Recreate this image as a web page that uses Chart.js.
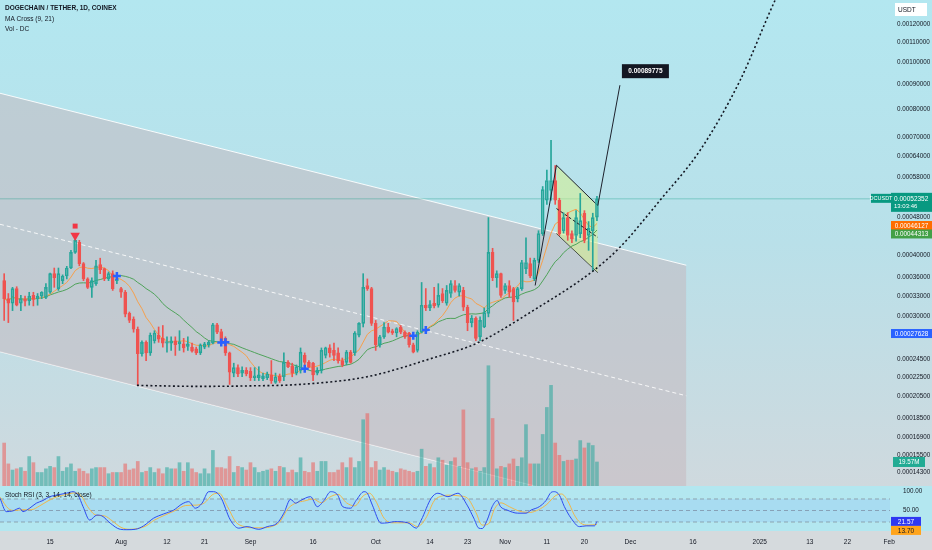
<!DOCTYPE html>
<html>
<head>
<meta charset="utf-8">
<script src="https://cdn.jsdelivr.net/npm/chart.js@4.4.1/dist/chart.umd.min.js"></script>
<style>
html, body { margin: 0; padding: 0; background: #d5dadd; }
#wrap { position: relative; width: 932px; height: 550px; overflow: hidden; }
#main { position: absolute; left: 0; top: 0; }
#osc { position: absolute; left: 0; top: 486px; }
</style>
</head>
<body>
<div id="wrap">
  <canvas id="main" width="932" height="486"></canvas>
  <canvas id="osc" width="932" height="64"></canvas>
</div>
<script>
// days are counted from 1 Aug 2024, prices are in units of 0.0001 USDT
const FIRST_DAY = -28;
const PRICE_UNIT = 1e-4;

const opens = [3.55,3.26,3.19,3.42,3.19,3.25,3.23,3.31,3.26,3.30,3.28,3.36,3.67,3.42,3.55,3.63,3.77,4.06,4.26,3.85,3.58,3.44,3.50,3.83,3.76,3.58,3.67,3.55,
  3.42,3.36,3.04,2.96,2.82,2.51,2.65,2.52,2.67,2.74,2.70,2.64,2.64,2.67,2.63,2.63,2.60,2.59,2.57,2.52,2.59,2.62,2.64,2.88,2.79,2.70,2.52,2.29,2.35,2.29,2.32,
  2.31,2.24,2.24,2.23,2.24,2.27,2.19,2.26,2.25,2.41,2.37,2.29,2.32,2.49,2.41,2.40,2.29,2.32,2.49,2.58,2.55,2.52,2.43,2.41,2.53,2.52,2.74,2.90,3.47,3.42,
  2.90,2.62,2.72,2.85,2.80,2.77,2.85,2.78,2.77,2.62,2.55,2.78,3.16,3.12,3.19,3.16,3.34,3.19,3.34,3.47,3.36,3.39,3.13,2.91,2.97,2.72,2.85,3.04,4.06,3.60,3.67,
  3.39,3.47,3.42,3.26,3.42,3.76,3.85,3.58,3.91,4.44,5.20,5.45,5.71,5.20,4.50,4.79,4.44,4.40,4.44,4.89,4.40,4.50,4.80];
const highs = [3.67,3.34,3.44,3.45,3.31,3.30,3.36,3.36,3.34,3.37,3.50,3.68,3.77,3.77,3.65,3.80,4.10,4.33,4.30,3.87,3.60,3.60,3.91,3.95,3.77,3.70,3.72,3.62,
  3.44,3.39,3.06,2.99,2.85,2.67,2.67,2.77,2.80,2.85,2.87,2.72,2.72,2.72,2.80,2.70,2.72,2.64,2.59,2.63,2.65,2.67,2.90,2.90,2.82,2.72,2.53,2.40,2.38,2.36,2.35,
  2.35,2.35,2.36,2.29,2.30,2.43,2.29,2.28,2.52,2.43,2.40,2.38,2.58,2.52,2.43,2.41,2.35,2.58,2.59,2.62,2.64,2.58,2.46,2.55,2.55,2.79,2.91,3.67,3.58,3.44,
  2.94,2.74,2.91,2.90,2.82,2.84,2.87,2.80,2.78,2.64,2.80,3.52,3.42,3.23,3.44,3.50,3.42,3.47,3.55,3.55,3.50,3.44,3.16,3.01,2.99,2.99,3.12,4.79,4.14,3.72,3.68,
  3.50,3.55,3.44,3.44,3.91,4.35,3.95,3.95,4.50,5.55,6.00,6.91,6.13,5.25,4.90,4.90,4.50,4.95,5.37,4.95,4.70,4.89,5.30];
const lows = [2.94,2.91,3.08,3.15,3.08,3.15,3.16,3.15,3.16,3.26,3.26,3.34,3.44,3.39,3.50,3.58,3.76,4.04,3.81,3.55,3.42,3.28,3.47,3.67,3.55,3.55,3.39,3.50,
  3.28,2.99,2.91,2.78,2.16,2.48,2.43,2.49,2.64,2.65,2.59,2.53,2.55,2.49,2.55,2.53,2.55,2.53,2.50,2.50,2.57,2.59,2.63,2.76,2.65,2.49,2.17,2.25,2.25,2.25,2.26,
  2.21,2.21,2.21,2.21,2.22,2.18,2.18,2.19,2.21,2.35,2.25,2.27,2.29,2.36,2.35,2.21,2.27,2.29,2.46,2.47,2.43,2.40,2.36,2.38,2.40,2.49,2.72,2.85,3.39,2.87,
  2.55,2.59,2.70,2.77,2.75,2.72,2.76,2.70,2.59,2.52,2.53,2.77,3.08,3.08,3.12,3.13,3.20,3.16,3.28,3.36,3.30,3.08,2.80,2.85,2.67,2.67,2.84,2.99,3.55,3.44,3.28,
  3.34,3.28,2.94,3.21,3.39,3.67,3.60,3.55,3.87,4.40,5.10,5.20,5.10,4.40,4.45,4.30,4.25,4.28,4.35,4.25,4.10,3.72,4.72];
const closes = [3.26,3.19,3.42,3.16,3.26,3.22,3.30,3.25,3.30,3.36,3.44,3.67,3.60,3.67,3.63,3.77,4.06,4.30,3.85,3.58,3.44,3.55,3.81,3.74,3.58,3.67,3.42,3.58,
  3.36,3.03,2.94,2.82,2.51,2.65,2.52,2.74,2.77,2.69,2.64,2.66,2.67,2.62,2.66,2.58,2.63,2.54,2.52,2.62,2.63,2.65,2.88,2.78,2.67,2.52,2.30,2.35,2.28,2.32,2.28,
  2.24,2.26,2.27,2.26,2.28,2.21,2.25,2.21,2.41,2.36,2.29,2.36,2.53,2.41,2.36,2.27,2.32,2.55,2.58,2.52,2.49,2.43,2.38,2.53,2.41,2.77,2.90,3.44,3.42,2.90,
  2.62,2.72,2.85,2.78,2.77,2.83,2.78,2.72,2.62,2.53,2.78,3.16,3.12,3.17,3.15,3.31,3.23,3.39,3.50,3.39,3.47,3.13,2.91,2.97,2.70,2.94,3.05,4.06,3.60,3.67,3.31,
  3.47,3.36,3.21,3.42,3.87,3.87,3.63,3.91,4.44,5.47,5.71,5.71,5.20,4.44,4.79,4.40,4.33,4.79,4.72,4.30,4.55,4.79,5.2352];
// volume, millions
const volumes = [35,18,13,14,15,12,24,19,11,11,14,16,15,24,12,15,18,12,14,12,10,14,15,15,15,10,11,11,11,18,13,14,20,11,12,15,
  11,14,10,15,14,14,19,12,19,14,11,10,14,10,29,15,15,14,24,11,16,15,13,19,15,11,12,13,14,12,16,15,11,13,11,23,
  12,11,19,12,20,20,11,11,13,19,15,23,15,20,54,59,15,20,13,15,13,12,11,14,13,12,11,12,30,16,18,15,23,21,17,
  20,23,16,62,19,14,15,12,15,98,55,14,16,15,18,22,16,23,50,18,18,18,42,64,82,35,25,20,21,21,22,37,31,35,33,19.57];

const priceTicks = [0.0012,0.0011,0.001,0.0009,0.0008,0.0007,0.00064,0.00058,0.00048,0.0004,0.00036,0.00033,0.0003,0.000245,0.000225,0.000205,0.000185,0.000169,0.000155,0.000143];
const dateTicks = [-17,0,11,20,31,46,61,74,83,92,102,111,122,137,153,165,174,184];
const dateLabels = ['15','Aug','12','21','Sep','16','Oct','14','23','Nov','11','20','Dec','16','2025','13','22','Feb'];

// drawings on the chart
const channelDays = [-29, 135.4];
const channelTop = [8.64, 3.82];
const channelMid = [4.64, 2.056];
const channelBottom = [2.534, 1.12];
const flagDays = [104.3, 114.2];
const flagTop = [6.14, 5.07];
const flagBottom = [4.44, 3.69];
const flagMid = [5.00, 4.36];
const poleDays = [99.2, 104.3];
const polePrice = [3.47, 6.14];
const targetDays = [114.2, 119.5];
const targetPrice = [5.07, 8.9775];
const curveDays = [3.8, 18.9, 30.9, 42.9, 58.9, 74.7, 85.3, 98.7, 113.1, 119.5, 129.1, 138.7, 148.3, 156.7, 159.1];
const curvePrice = [2.16, 2.15, 2.155, 2.17, 2.25, 2.46, 2.64, 3.08, 3.72, 4.16, 5.20, 6.59, 9.19, 13.45, 14.8];
const signalDay = -11;
const signalPrice = [4.60, 4.40];

// stoch RSI
const rsiKDays = [-29,-27.5,-25.9,-24.3,-23.5,-21.9,-20.3,-18.7,-17.1,-15.5,-13.1,-11.5,-10.3,-9.1,-7.5,-5.8,-4.6,-2.6,-0.2,1.4,
  3.4,5.4,7.8,10.2,12.6,14.6,16.2,17.8,19.4,21,22.2,23.8,26.2,28.2,30.2,33,35,37.4,39,40.6,41.8,43,45.4,47,48.6,50.2,51.9,53.1,55,56.3,
  58.2,59,60.2,62.3,63.9,65.5,68.7,70.7,71.9,74.3,75.9,78.3,80.7,82.9,84.5,85.7,86.5,87.7,88.9,90.1,90.9,92.5,95,97,98.2,100.2,101.8,103,103.8,105,
  106.2,107.8,109.8,111.4,113.4,114];
const rsiK = [82,47,49,56,47,56,69,76,86,90,95,99,90,60,25,38,36,17,1,0,
  1,10,30,41,51,67,73,56,69,99,99,86,25,4,8,1,8,17,43,79,69,76,86,60,76,99,90,60,56,76,
  99,95,64,17,18,21,18,4,25,82,95,86,95,64,30,4,3,25,60,76,60,51,43,43,51,60,76,97,99,90,
  60,30,8,10,10,21.57];
const rsiDDays = [-29,-27,-25.5,-23.5,-21.5,-19.5,-17.5,-15.5,-13,-11,-9.5,-8,-6,-4,-2,0,2,4,6,8,
  10.5,13,15.5,18,20,22,23.5,25.5,27.5,29.5,32,34,36,38,40,42,44,46,48,50,52,54,56,58,59.5,61,63,65,67,69,
  71,73,75,77,79,81,83,85,86.5,88,89.5,91,93,95.5,98,100,102,104,105.5,107,108.5,110,112,114];
const rsiD = [85,55,50,52,52,62,75,85,92,96,88,60,38,36,22,6,1,3,10,25,
  38,50,63,64,70,92,95,60,20,8,5,5,8,20,55,70,75,80,70,85,92,70,62,88,95,75,30,18,18,18,
  8,30,75,88,90,88,82,45,12,15,55,70,60,48,45,52,66,88,93,75,40,18,12,13.7];
const rsiLevels = [80, 50, 20];

const X_MIN = -29, X_MAX = 184.2;
const FONT = "'Liberation Sans', Arial, sans-serif";
Chart.defaults.font.family = FONT;
Chart.defaults.font.size = 6.5;
Chart.defaults.color = '#131722';

const GREEN = '#26a69a', RED = '#ef5350';
const P = v => v * PRICE_UNIT;
const days = closes.map((_, i) => FIRST_DAY + i);
const isUp = closes.map((c, i) => c >= opens[i]);
const pts = (xs, ys) => xs.map((x, i) => ({ x: x, y: P(ys[i]) }));

function sma(values, n) {
  return values.map((_, i) => {
    const win = values.slice(Math.max(0, i - n + 1), i + 1);
    return win.reduce((a, b) => a + b, 0) / win.length;
  });
}
const ma9 = sma(closes, 9);
const ma21 = sma(closes, 21);
const crosses = [];
for (let i = 10; i < days.length; i++) {
  if (Math.sign(ma9[i] - ma21[i]) !== Math.sign(ma9[i - 1] - ma21[i - 1])) crosses.push({ x: days[i], y: P(ma21[i]) });
}

const lastClose = closes[closes.length - 1];

// axis fit: fixed width, no extra label padding above/below the plot
const fitRight = s => { s.width = 42; s.paddingTop = 0; s.paddingBottom = 0; };

const bgMain = {
  id: 'bgMain',
  beforeDraw(chart) {
    const { ctx, width, height } = chart;
    const g = ctx.createLinearGradient(0, 0, 0, height);
    g.addColorStop(0, '#b3e7f0');
    g.addColorStop(0.5, '#b9e0e9');
    g.addColorStop(1, '#cfd9de');
    ctx.save();
    ctx.fillStyle = g;
    ctx.fillRect(0, 0, width, height);
    ctx.restore();
  }
};

function tag(ctx, x, y, w, h, bg, text, fg) {
  ctx.fillStyle = bg;
  ctx.fillRect(x, y, w, h);
  ctx.fillStyle = fg;
  ctx.textBaseline = 'middle';
  ctx.textAlign = 'center';
  ctx.fillText(text, x + w / 2, y + h / 2 + 0.5);
}

const overlayMain = {
  id: 'overlayMain',
  afterDraw(chart) {
    const { ctx } = chart;
    const y = chart.scales.y, x = chart.scales.x, v = chart.scales.v;
    ctx.save();
    ctx.font = 'bold 6.5px ' + FONT;
    ctx.fillStyle = '#131722';
    ctx.textAlign = 'left';
    ctx.textBaseline = 'alphabetic';
    ctx.fillText('DOGECHAIN / TETHER, 1D, COINEX', 5, 10);
    ctx.font = '6.5px ' + FONT;
    ctx.fillText('MA Cross (9, 21)', 5, 21);
    ctx.fillText('Vol - DC', 5, 31);

    // axis tags
    ctx.fillStyle = '#ffffff';
    ctx.fillRect(895, 3, 32, 13);
    ctx.fillStyle = '#131722';
    ctx.textAlign = 'left';
    ctx.textBaseline = 'middle';
    ctx.fillText('USDT', 898, 10);

    const py = y.getPixelForValue(P(lastClose));
    ctx.fillStyle = '#089981';
    ctx.fillRect(891, py - 6, 41, 19);
    ctx.fillStyle = '#ffffff';
    ctx.fillText('0.00052352', 894, py);
    ctx.font = '6px ' + FONT;
    ctx.fillText('13:03:46', 894, py + 8);
    ctx.fillStyle = '#089981';
    ctx.fillRect(871, py - 5, 20, 9);
    ctx.fillStyle = '#ffffff';
    ctx.textAlign = 'center';
    ctx.font = '5.5px ' + FONT;
    ctx.fillText('DCUSDT', 881, py);

    ctx.font = '6.3px ' + FONT;
    tag(ctx, 891, y.getPixelForValue(0.00046127) - 4.5, 41, 9, '#ff6d00', '0.00046127', '#ffffff');
    tag(ctx, 891, y.getPixelForValue(0.00044313) - 4.5, 41, 9, '#43a047', '0.00044313', '#ffffff');
    tag(ctx, 891, y.getPixelForValue(0.00027628) - 4.5, 41, 9, '#2962ff', '0.00027628', '#ffffff');
    tag(ctx, 893, v.getPixelForValue(volumes[volumes.length - 1]) - 5, 32, 10, '#22ab94', '19.57M', '#ffffff');

    // target label
    const tx = x.getPixelForValue(targetDays[1]);
    const ty = y.getPixelForValue(P(targetPrice[1]));
    ctx.font = 'bold 6.5px ' + FONT;
    tag(ctx, tx + 2, ty - 21, 47, 14, '#131722', '0.00089775', '#ffffff');
    ctx.restore();
  }
};

const mainData = {
  datasets: [
    { type: 'line', data: pts(channelDays, channelTop), borderColor: 'rgba(255,255,255,0.9)', borderWidth: 1,
      pointRadius: 0, fill: '+1', backgroundColor: 'rgba(198,182,188,0.5)', order: 100 },
    { type: 'line', data: pts(channelDays, channelBottom), borderColor: 'rgba(255,255,255,0.9)', borderWidth: 1,
      pointRadius: 0, fill: false, order: 100 },
    { type: 'line', data: pts(channelDays, channelMid), borderColor: 'rgba(255,255,255,0.85)', borderWidth: 1,
      borderDash: [4, 3], pointRadius: 0, fill: false, order: 99 },
    { type: 'line', data: [{ x: X_MIN, y: P(lastClose) }, { x: X_MAX, y: P(lastClose) }],
      borderColor: 'rgba(8,153,129,0.35)', borderWidth: 1, pointRadius: 0, order: 98 },
    { type: 'bar', yAxisID: 'v', data: days.map((d, i) => ({ x: d, y: volumes[i] })),
      backgroundColor: isUp.map(u => u ? 'rgba(38,166,154,0.55)' : 'rgba(239,83,80,0.5)'), order: 90 },
    { type: 'line', data: pts(flagDays, flagTop), borderColor: '#1e222d', borderWidth: 1, pointRadius: 0,
      fill: '+1', backgroundColor: 'rgba(214,240,140,0.55)', order: 35 },
    { type: 'line', data: pts(flagDays, flagBottom), borderColor: '#1e222d', borderWidth: 1, pointRadius: 0, order: 35 },
    { type: 'line', data: days.map((d, i) => ({ x: d, y: P(ma9[i]) })), borderColor: '#f7a04b', borderWidth: 1, pointRadius: 0, order: 32 },
    { type: 'line', data: days.map((d, i) => ({ x: d, y: P(ma21[i]) })), borderColor: '#4fa35a', borderWidth: 1, pointRadius: 0, order: 33 },
    { type: 'bar', data: days.map((d, i) => ({ x: d, y: [P(lows[i]), P(Math.min(opens[i], closes[i]))] })),
      backgroundColor: isUp.map(u => u ? GREEN : RED), barThickness: 1, order: 30 },
    { type: 'bar', data: days.map((d, i) => ({ x: d, y: [P(Math.max(opens[i], closes[i])), P(highs[i])] })),
      backgroundColor: isUp.map(u => u ? GREEN : RED), barThickness: 1, order: 30 },
    { type: 'bar', data: days.map((d, i) => ({ x: d, y: [P(Math.min(opens[i], closes[i])), P(Math.max(opens[i], closes[i]))] })),
      backgroundColor: isUp.map(u => u ? 'rgba(0,0,0,0)' : RED), borderColor: isUp.map(u => u ? GREEN : RED),
      borderWidth: 1, barThickness: 3, order: 29 },
    { type: 'line', data: pts(poleDays, polePrice), borderColor: '#1e222d', borderWidth: 1, pointRadius: 0, order: 20 },
    { type: 'line', data: pts(targetDays, targetPrice), borderColor: '#1e222d', borderWidth: 1, pointRadius: 0, order: 20 },
    { type: 'line', data: pts(flagDays, flagMid), borderColor: '#1e222d', borderWidth: 1, borderDash: [3, 2], pointRadius: 0, order: 20 },
    { type: 'line', data: pts(curveDays, curvePrice), borderColor: '#131722', borderWidth: 1.6, borderDash: [2, 2.5],
      cubicInterpolationMode: 'monotone', pointRadius: 0, order: 20 },
    { type: 'line', data: crosses, showLine: false, pointStyle: 'cross', pointRadius: 4, pointBorderWidth: 2.5,
      pointBorderColor: '#2962ff', order: 5 },
    { type: 'line', data: [{ x: signalDay, y: P(signalPrice[0]) }], showLine: false, pointStyle: 'rect', pointRadius: 3.5,
      pointBackgroundColor: '#f23645', pointBorderWidth: 0, order: 5 },
    { type: 'line', data: [{ x: signalDay, y: P(signalPrice[1]) }], showLine: false, pointStyle: 'triangle', rotation: 180,
      pointRadius: 5.5, pointBackgroundColor: '#f23645', pointBorderWidth: 0, order: 5 }
  ]
};

new Chart(document.getElementById('main'), {
  type: 'bar',
  data: mainData,
  options: {
    responsive: false,
    animation: false,
    events: [],
    layout: { padding: 0, autoPadding: false },
    datasets: { bar: { grouped: false, barThickness: 3, borderSkipped: false, borderWidth: 0 } },
    plugins: { legend: { display: false }, tooltip: { enabled: false } },
    scales: {
      x: { type: 'linear', min: X_MIN, max: X_MAX, display: false, offset: false },
      y: {
        type: 'logarithmic', position: 'right', min: 0.000134, max: 0.001345,
        grid: { display: false, drawTicks: false }, border: { display: false },
        afterBuildTicks: s => { s.ticks = priceTicks.map(v => ({ value: v })); },
        afterFit: fitRight,
        ticks: { autoSkip: false, padding: 7, callback: v => Number(v).toFixed(8), color: '#131722', font: { size: 6.3 } }
      },
      v: { type: 'linear', display: false, min: 0, max: 396 }
    }
  },
  plugins: [bgMain, overlayMain]
});

const bgOsc = {
  id: 'bgOsc',
  beforeDraw(chart) {
    const { ctx, width, height, chartArea } = chart;
    ctx.save();
    ctx.fillStyle = '#d5dadd';
    ctx.fillRect(0, 0, width, height);
    ctx.fillStyle = '#b3e7f0';
    ctx.fillRect(0, 0, width, chartArea.bottom);
    ctx.restore();
  }
};

const overlayOsc = {
  id: 'overlayOsc',
  afterDraw(chart) {
    const { ctx } = chart;
    const y = chart.scales.y;
    ctx.save();
    ctx.font = '6.5px ' + FONT;
    ctx.fillStyle = '#131722';
    ctx.textAlign = 'left';
    ctx.textBaseline = 'alphabetic';
    ctx.fillText('Stoch RSI (3, 3, 14, 14, close)', 5, 11);
    const k = rsiK[rsiK.length - 1], d = rsiD[rsiD.length - 1];
    const ky = y.getPixelForValue(k);
    const dy = Math.max(y.getPixelForValue(d), ky + 9);
    tag(ctx, 891, ky - 4.5, 30, 9, '#2f38f2', k.toFixed(2), '#ffffff');
    tag(ctx, 891, dy - 4.5, 30, 9, '#ffa41b', d.toFixed(2), '#131722');
    ctx.restore();
  }
};

const levelLine = (lv, extra) => Object.assign({
  data: [{ x: X_MIN, y: lv }, { x: X_MAX, y: lv }], borderColor: 'rgba(120,123,134,0.6)', borderWidth: 1,
  borderDash: [4, 3], pointRadius: 0, fill: false, order: 50
}, extra || {});

new Chart(document.getElementById('osc'), {
  type: 'line',
  data: {
    datasets: [
      levelLine(rsiLevels[0], { fill: '+2', backgroundColor: 'rgba(41,98,255,0.08)' }),
      levelLine(rsiLevels[1]),
      levelLine(rsiLevels[2]),
      { data: rsiDDays.map((d, i) => ({ x: d, y: rsiD[i] })), borderColor: '#f0b84a', borderWidth: 1, pointRadius: 0,
        cubicInterpolationMode: 'monotone', order: 10 },
      { data: rsiKDays.map((d, i) => ({ x: d, y: rsiK[i] })), borderColor: '#2f4cf0', borderWidth: 1, pointRadius: 0,
        cubicInterpolationMode: 'monotone', order: 5 }
    ]
  },
  options: {
    responsive: false,
    animation: false,
    events: [],
    layout: { padding: 0, autoPadding: false },
    plugins: { legend: { display: false }, tooltip: { enabled: false } },
    scales: {
      x: {
        type: 'linear', min: X_MIN, max: X_MAX, offset: false,
        grid: { display: false, drawTicks: false }, border: { display: false },
        afterBuildTicks: s => { s.ticks = dateTicks.map(v => ({ value: v })); },
        afterFit: s => { s.height = 19; s.paddingLeft = 0; s.paddingRight = 0; },
        ticks: { autoSkip: false, maxRotation: 0, padding: 7, color: '#131722', font: { size: 6.5 },
          callback: v => dateLabels[dateTicks.indexOf(v)] }
      },
      y: {
        position: 'right', min: -3.4, max: 113.8,
        grid: { display: false, drawTicks: false }, border: { display: false },
        afterBuildTicks: s => { s.ticks = [{ value: 50 }, { value: 100 }]; },
        afterFit: fitRight,
        ticks: { autoSkip: false, padding: 13, color: '#131722', font: { size: 6.3 }, callback: v => Number(v).toFixed(2) }
      }
    }
  },
  plugins: [bgOsc, overlayOsc]
});
</script>
</body>
</html>
